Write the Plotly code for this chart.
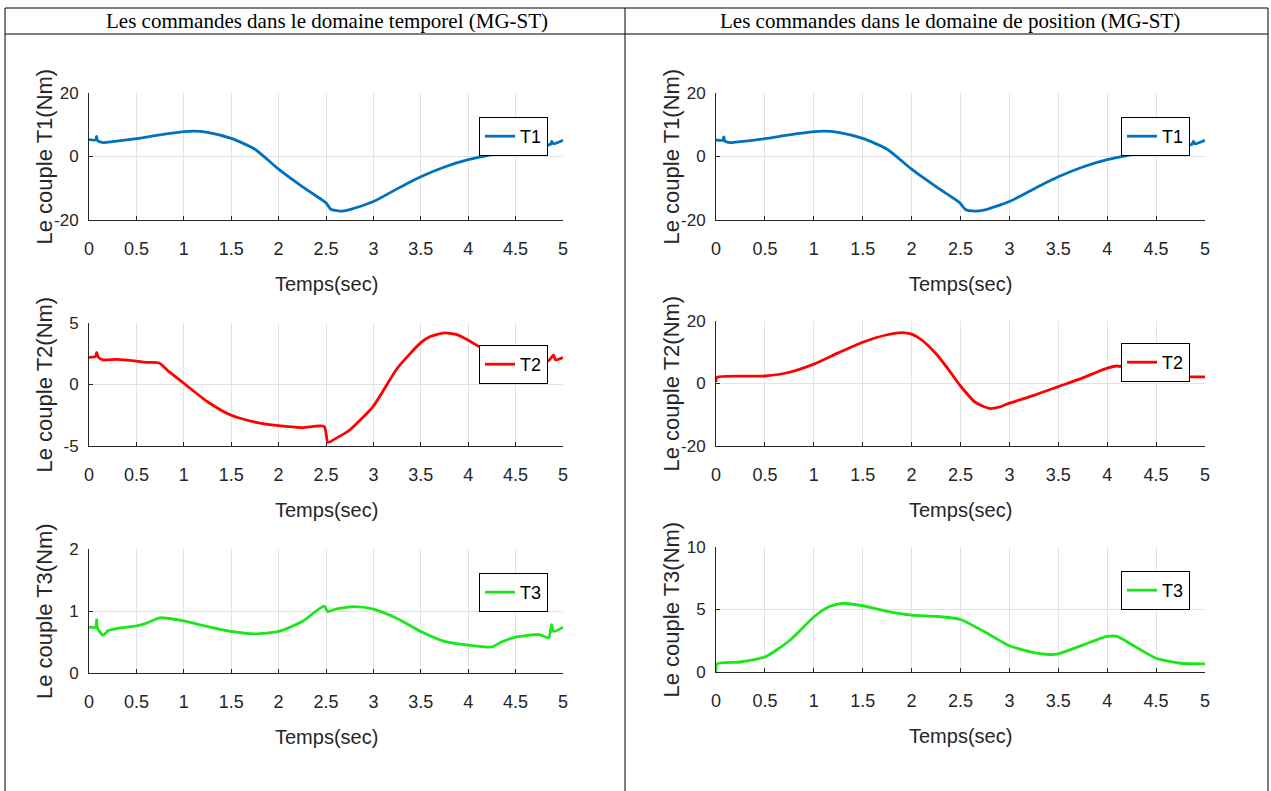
import plotly.graph_objects as go

# ---------------- data ----------------
col_titles = ["Les commandes dans le domaine temporel (MG-ST)",
              "Les commandes dans le domaine de position (MG-ST)"]
x_title = "Temps(sec)"
y_titles = ["Le couple T1(Nm)", "Le couple T2(Nm)", "Le couple T3(Nm)"]
series_names = ["T1", "T2", "T3"]
x_ticks = [0, 0.5, 1, 1.5, 2, 2.5, 3, 3.5, 4, 4.5, 5]
x_ticktext = ["0", "0.5", "1", "1.5", "2", "2.5", "3", "3.5", "4", "4.5", "5"]

# left column (temporel)
tL1 = [0, 0.07, 0.08, 0.09, 0.15, 0.25, 0.5, 0.75, 1.0, 1.1, 1.25, 1.5, 1.75, 2.0, 2.25,
       2.45, 2.5, 2.55, 2.65, 2.75, 3.0, 3.25, 3.5, 3.75, 4.0, 4.25, 4.5, 4.75, 4.87, 4.88, 4.9, 5.0]
yL1 = [5.3, 5.2, 6.3, 5.0, 4.4, 4.7, 5.6, 6.8, 7.8, 8.0, 7.6, 5.7, 2.3, -4.0, -9.5,
       -13.5, -14.6, -16.6, -17.2, -16.7, -14.2, -10.2, -6.4, -3.3, -1.0, 0.6, 2.0, 3.3, 3.9, 4.8, 4.0, 5.1]

tL2 = [0, 0.07, 0.08, 0.1, 0.15, 0.3, 0.5, 0.6, 0.74, 0.85, 1.0, 1.25, 1.5, 1.75, 2.0, 2.25,
       2.48, 2.52, 2.6, 2.75, 3.0, 3.25, 3.5, 3.6, 3.75, 3.9, 4.0, 4.25, 4.5, 4.75, 4.85, 4.9, 4.92, 5.0]
yL2 = [2.2, 2.3, 2.6, 2.2, 2.0, 2.05, 1.9, 1.8, 1.75, 1.0, 0.1, -1.4, -2.5, -3.05, -3.35, -3.5,
       -3.4, -4.7, -4.4, -3.7, -1.75, 1.3, 3.4, 3.9, 4.2, 4.0, 3.6, 2.5, 1.9, 1.8, 1.95, 2.4, 2.0, 2.2]

tL3 = [0, 0.07, 0.08, 0.09, 0.15, 0.2, 0.3, 0.5, 0.6, 0.75, 1.0, 1.25, 1.5, 1.75, 2.0, 2.25,
       2.48, 2.52, 2.6, 2.8, 3.0, 3.25, 3.5, 3.75, 4.0, 4.25, 4.35, 4.5, 4.75, 4.85, 4.88, 4.9, 5.0]
yL3 = [0.74, 0.74, 0.86, 0.72, 0.61, 0.68, 0.72, 0.76, 0.8, 0.89, 0.84, 0.75, 0.67, 0.63, 0.67, 0.83,
       1.08, 0.99, 1.03, 1.07, 1.03, 0.88, 0.67, 0.51, 0.45, 0.42, 0.5, 0.58, 0.62, 0.57, 0.78, 0.67, 0.74]

# right column (position)
tR1 = [0, 0.07, 0.08, 0.09, 0.15, 0.25, 0.5, 0.75, 1.0, 1.1, 1.25, 1.5, 1.75, 2.0, 2.25,
       2.45, 2.5, 2.55, 2.65, 2.75, 3.0, 3.25, 3.5, 3.75, 4.0, 4.25, 4.5, 4.75, 4.87, 4.88, 4.9, 5.0]
yR1 = [5.2, 5.1, 6.2, 4.9, 4.4, 4.7, 5.6, 6.8, 7.8, 8.0, 7.6, 5.7, 2.3, -4.0, -9.5,
       -13.6, -14.8, -16.7, -17.2, -16.8, -14.2, -10.2, -6.4, -3.3, -1.0, 0.6, 2.0, 3.3, 3.9, 4.8, 4.0, 5.1]

tR2 = [0, 0.01, 0.5, 0.75, 1.0, 1.25, 1.5, 1.75, 1.9, 2.0, 2.1, 2.25, 2.4, 2.5, 2.65, 2.8, 2.9,
       3.0, 3.25, 3.5, 3.75, 4.0, 4.1, 4.25, 4.5, 4.75, 5.0]
yR2 = [0.5, 2.0, 2.4, 3.6, 6.2, 9.8, 13.2, 15.6, 16.3, 15.8, 14.0, 9.5, 3.5, -0.8, -6.0, -8.0, -7.5,
       -6.3, -3.8, -1.0, 1.8, 4.9, 5.6, 4.7, 2.8, 2.2, 2.1]

tR3 = [0, 0.01, 0.25, 0.5, 0.75, 1.0, 1.15, 1.3, 1.5, 1.75, 2.0, 2.25, 2.5, 2.75, 3.0, 3.25, 3.4,
       3.5, 3.75, 4.0, 4.1, 4.25, 4.5, 4.75, 5.0]
yR3 = [0.0, 0.65, 0.8, 1.2, 2.5, 4.4, 5.2, 5.5, 5.3, 4.85, 4.55, 4.45, 4.2, 3.2, 2.1, 1.55, 1.4,
       1.45, 2.15, 2.85, 2.85, 2.2, 1.1, 0.7, 0.65]

y_ticks = {
    "L1": [-20, 0, 20], "L2": [-5, 0, 5], "L3": [0, 1, 2],
    "R1": [-20, 0, 20], "R2": [-20, 0, 20], "R3": [0, 5, 10],
}
y_ticktext = {
    "L1": ["-20", "0", "20"], "L2": ["-5", "0", "5"], "L3": ["0", "1", "2"],
    "R1": ["-20", "0", "20"], "R2": ["-20", "0", "20"], "R3": ["0", "5", "10"],
}

colors = ["#0072BD", "#FF0000", "#18E818"]

# ---------------- layout helpers ----------------
W, H = 1271, 791
def fx(px):
    return px / W
def fy(py):
    return 1 - py / H

SANS = "Liberation Sans, Arial, sans-serif"
SERIF = "Liberation Serif, Times New Roman, serif"
AX = "#262626"
GRID = "#e3e3e3"

panels = [
    # key, t, y, series idx, x px range, y px range (top, bottom), legend top-right px
    ("L1", tL1, yL1, 0, (89, 563), (93, 220), (548, 117)),
    ("L2", tL2, yL2, 1, (89, 563), (323, 446), (548, 345)),
    ("L3", tL3, yL3, 2, (89, 563), (549, 673), (548, 573)),
    ("R1", tR1, yR1, 0, (716, 1205), (93, 220), (1190, 117)),
    ("R2", tR2, yR2, 1, (716, 1205), (321, 446), (1190, 343)),
    ("R3", tR3, yR3, 2, (716, 1205), (547, 672), (1190, 571)),
]

fig = go.Figure()
layout = dict(
    template="none",
    width=W, height=H, margin=dict(l=0, r=0, t=0, b=0, pad=0, autoexpand=False),
    paper_bgcolor="white", plot_bgcolor="white", showlegend=True,
)
annotations = []
shapes = []

for i, (key, t, y, s, (x0, x1), (ytop, ybot), (lx, ly)) in enumerate(panels):
    n = i + 1
    xa = "x" if n == 1 else f"x{n}"
    ya = "y" if n == 1 else f"y{n}"
    lg = "legend" if n == 1 else f"legend{n}"
    fig.add_trace(go.Scatter(
        x=t, y=y, mode="lines", name=series_names[s],
        line=dict(color=colors[s], width=2.8, shape="spline", smoothing=0.6),
        xaxis=xa, yaxis=ya, legend=lg, showlegend=True,
    ))
    yt = y_ticks[key]
    layout["xaxis" if n == 1 else f"xaxis{n}"] = dict(
        domain=[fx(x0), fx(x1)], anchor=ya, range=[0, 5], automargin=False,
        tickvals=x_ticks, ticktext=x_ticktext,
        showline=True, linecolor=AX, linewidth=1, mirror=False,
        ticks="inside", ticklen=4, tickcolor=AX,
        showgrid=True, gridcolor=GRID, gridwidth=1, zeroline=False,
        tickfont=dict(family=SANS, size=18, color=AX), ticklabelstandoff=12,
    )
    layout["yaxis" if n == 1 else f"yaxis{n}"] = dict(
        domain=[fy(ybot), fy(ytop)], anchor=xa, range=[yt[0], yt[-1]], automargin=False,
        tickvals=yt, ticktext=y_ticktext[key],
        showline=True, linecolor=AX, linewidth=1, mirror=False,
        ticks="inside", ticklen=4, tickcolor=AX,
        showgrid=True, gridcolor=GRID, gridwidth=1, zeroline=False,
        tickfont=dict(family=SANS, size=17, color=AX), ticklabelstandoff=6,
    )
    layout[lg] = dict(
        x=fx(lx), y=fy(ly), xanchor="right", yanchor="top",
        bgcolor="white", bordercolor="#000000", borderwidth=1,
        font=dict(family=SANS, size=18, color="#000000"),
        itemwidth=30,
    )
    # x-axis title
    annotations.append(dict(
        text=x_title, x=fx((x0 + x1) / 2), y=fy(ybot + 64), xref="paper", yref="paper",
        xanchor="center", yanchor="middle", showarrow=False,
        font=dict(family=SANS, size=20, color=AX),
    ))
    # y-axis title
    annotations.append(dict(
        text=y_titles[s], x=fx(x0 - 45), y=fy((ytop + ybot) / 2), xref="paper", yref="paper",
        xanchor="center", yanchor="middle", showarrow=False, textangle=-90,
        font=dict(family=SANS, size=22, color=AX),
    ))

# table frame
frame_x = [5, 625, 1268]
for xv in frame_x:
    shapes.append(dict(type="line", xref="paper", yref="paper",
                       x0=fx(xv), x1=fx(xv), y0=fy(8), y1=fy(791),
                       line=dict(color="#000000", width=1)))
for yv in [8, 34]:
    shapes.append(dict(type="line", xref="paper", yref="paper",
                       x0=fx(5), x1=fx(1268), y0=fy(yv), y1=fy(yv),
                       line=dict(color="#000000", width=1)))

# column titles
title_cx = [327, 950]
for j, title in enumerate(col_titles):
    annotations.append(dict(
        text=title, x=fx(title_cx[j]), y=fy(21), xref="paper", yref="paper",
        xanchor="center", yanchor="middle", showarrow=False,
        font=dict(family=SERIF, size=21, color="#000000"),
    ))

layout["annotations"] = annotations
layout["shapes"] = shapes
fig.update_layout(**layout)

fig.write_html("out.html")
